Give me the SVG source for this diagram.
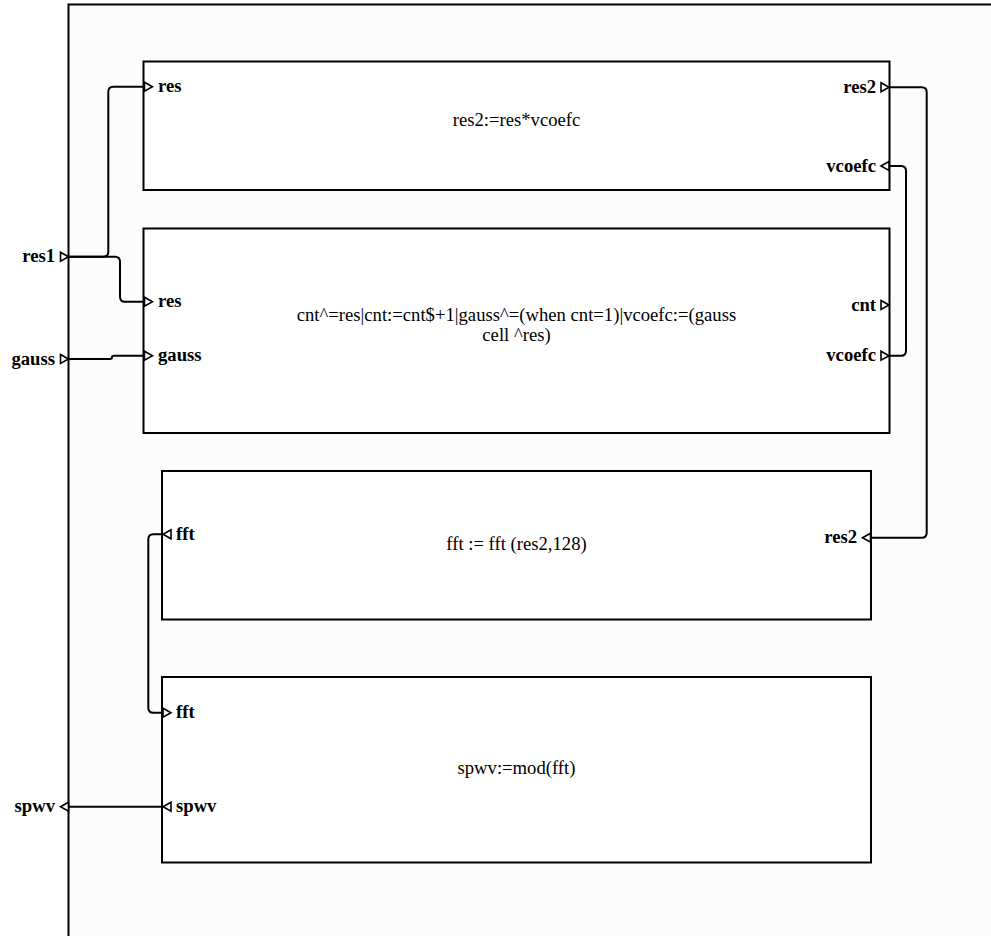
<svg xmlns="http://www.w3.org/2000/svg" width="991" height="936" viewBox="0 0 991 936">
<style>
.outer{fill:#fcfcfc;stroke:#000;stroke-width:2}
.box{fill:#fff;stroke:#000;stroke-width:2}
.port{fill:#fff;stroke:#000;stroke-width:1.6;stroke-linejoin:miter}
.wire{fill:none;stroke:#000;stroke-width:2}
.lbl{font-family:"Liberation Serif","Times New Roman",serif;font-size:18.67px;font-weight:bold;fill:#000}
.txt{font-family:"Liberation Serif","Times New Roman",serif;font-size:18.67px;fill:#000;text-anchor:middle}
.end{text-anchor:end}
</style>
<rect x="0" y="0" width="991" height="936" fill="#fff"/>
<g id="outer">
<rect class="outer" x="68.5" y="4.5" width="940" height="950"/>
<path class="port" d="M60.5,252.2 L68.5,256.7 L60.5,261.2 Z"/>
<text class="lbl end" x="55" y="262.3">res1</text>
<path class="port" d="M60.5,354.5 L68.5,359 L60.5,363.5 Z"/>
<text class="lbl end" x="55" y="364.6">gauss</text>
<path class="port" d="M68.5,802.2 L60.5,806.7 L68.5,811.2 Z"/>
<text class="lbl end" x="55" y="812.3">spwv</text>
</g>
<g id="connectors">
<path class="wire" d="M69,256.7 H103.3 Q108.3,256.7 108.3,251.7 V91.7 Q108.3,86.7 113.3,86.7 H144"/>
<path class="wire" d="M69,256.7 H115 Q120,256.7 120,261.7 V296.7 Q120,301.7 125,301.7 H144"/>
<path class="wire" d="M69,359 H110 Q112,359 112,357.3 Q112,355.7 114,355.7 H144"/>
<path class="wire" d="M889,87.3 H921.7 Q926.7,87.3 926.7,92.3 V532.7 Q926.7,537.7 921.7,537.7 H871"/>
<path class="wire" d="M889,355.7 H901 Q906,355.7 906,350.7 V171 Q906,166 901,166 H889"/>
<path class="wire" d="M163,534.3 H153.3 Q148.3,534.3 148.3,539.3 V707.7 Q148.3,712.7 153.3,712.7 H163"/>
<path class="wire" d="M163,806.7 H69"/>
</g>
<g id="node1">
<rect class="box" x="143.5" y="61.5" width="746" height="128.5"/>
<text class="txt" x="516.5" y="125.7">res2:=res*vcoefc</text>
<path class="port" d="M144.5,82.2 L152.5,86.7 L144.5,91.2 Z"/>
<text class="lbl" x="158" y="92.3">res</text>
<path class="port" d="M881,82.8 L889,87.3 L881,91.8 Z"/>
<text class="lbl end" x="876" y="92.9">res2</text>
<path class="port" d="M889,161.5 L881,166 L889,170.5 Z"/>
<text class="lbl end" x="876" y="171.6">vcoefc</text>
</g>
<g id="node2">
<rect class="box" x="143.5" y="228.5" width="746" height="204.5"/>
<text class="txt" x="516.5" y="320.5">cnt^=res|cnt:=cnt$+1|gauss^=(when cnt=1)|vcoefc:=(gauss</text>
<text class="txt" x="516.5" y="340.5">cell ^res)</text>
<path class="port" d="M144.5,297.2 L152.5,301.7 L144.5,306.2 Z"/>
<text class="lbl" x="158" y="307.3">res</text>
<path class="port" d="M144.5,351.2 L152.5,355.7 L144.5,360.2 Z"/>
<text class="lbl" x="158" y="361.3">gauss</text>
<path class="port" d="M881,300.5 L889,305 L881,309.5 Z"/>
<text class="lbl end" x="876" y="310.6">cnt</text>
<path class="port" d="M881,351.2 L889,355.7 L881,360.2 Z"/>
<text class="lbl end" x="876" y="361.3">vcoefc</text>
</g>
<g id="node3">
<rect class="box" x="162" y="471" width="709" height="148.5"/>
<text class="txt" x="516.5" y="550">fft := fft (res2,128)</text>
<path class="port" d="M171,529.8 L163,534.3 L171,538.8 Z"/>
<text class="lbl" x="176" y="539.9">fft</text>
<path class="port" d="M870.5,533.2 L862.5,537.7 L870.5,542.2 Z"/>
<text class="lbl end" x="857" y="543.3">res2</text>
</g>
<g id="node4">
<rect class="box" x="162" y="677" width="709" height="185.5"/>
<text class="txt" x="516.5" y="774">spwv:=mod(fft)</text>
<path class="port" d="M163,708.2 L171,712.7 L163,717.2 Z"/>
<text class="lbl" x="176" y="718.3">fft</text>
<path class="port" d="M171,802.2 L163,806.7 L171,811.2 Z"/>
<text class="lbl" x="176" y="812.3">spwv</text>
</g>
</svg>
